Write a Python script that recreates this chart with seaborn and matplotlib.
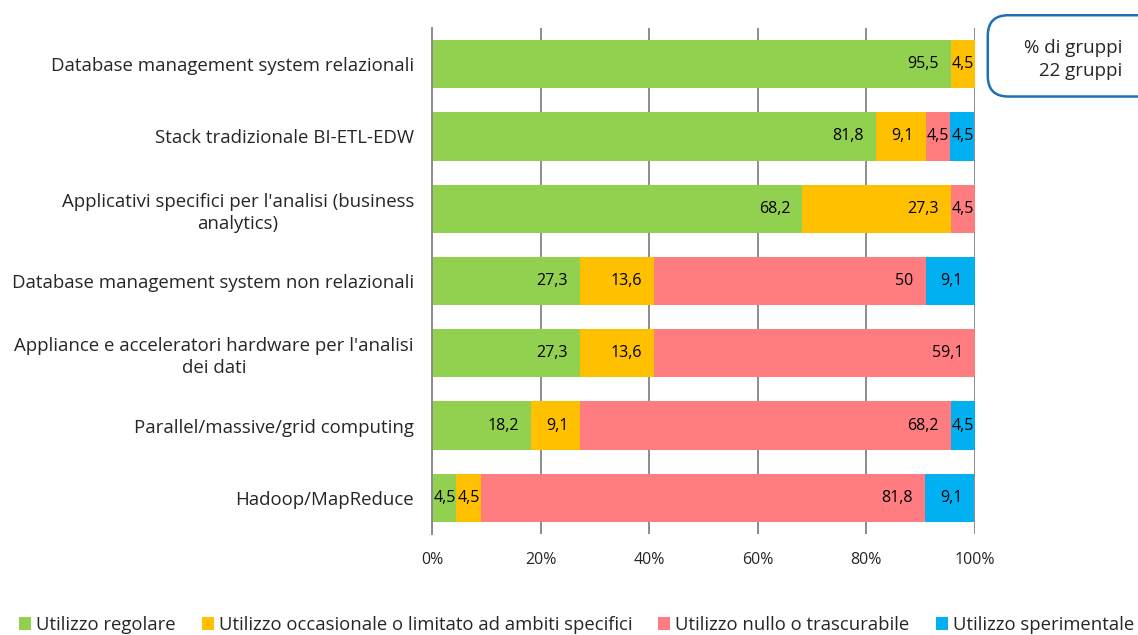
import numpy as np
import pandas as pd
import matplotlib
matplotlib.use("Agg")
import matplotlib.pyplot as plt
from matplotlib.patches import Patch, FancyBboxPatch
import seaborn as sns


# Data (percent of groups, 22 groups)
categories = [
    "Database management system relazionali",
    "Stack tradizionale BI-ETL-EDW",
    "Applicativi specifici per l'analisi (business\nanalytics)",
    "Database management system non relazionali",
    "Appliance e acceleratori hardware per l'analisi\ndei dati",
    "Parallel/massive/grid computing",
    "Hadoop/MapReduce",
]
regolare = [95.5, 81.8, 68.2, 27.3, 27.3, 18.2, 4.5]
occasionale = [4.5, 9.1, 27.3, 13.6, 13.6, 9.1, 4.5]
nullo = [0, 4.5, 4.5, 50, 59.1, 68.2, 81.8]
sperimentale = [0, 4.5, 0, 9.1, 0, 4.5, 9.1]

series_names = [
    "Utilizzo regolare",
    "Utilizzo occasionale o limitato ad ambiti specifici",
    "Utilizzo nullo o trascurabile",
    "Utilizzo sperimentale",
]
colors = ["#92D050", "#FFC000", "#FF7C80", "#00B0F0"]

df = pd.DataFrame({
    "categoria": categories,
    series_names[0]: regolare,
    series_names[1]: occasionale,
    series_names[2]: nullo,
    series_names[3]: sperimentale,
})

sns.set_style("white")
plt.rcParams["font.family"] = ["Open Sans", "DejaVu Sans"]

fig = plt.figure(figsize=(11.38, 6.35), dpi=100)
ax = fig.add_axes([0.3796, 0.1591, 0.4772, 0.7968])

# gridlines behind the bars
ax.set_axisbelow(True)
ax.xaxis.grid(True, color="#8C8C8C", linewidth=1.4)

# stacked bars: draw cumulative totals from the end backwards
cum = df[series_names].cumsum(axis=1)
for name, col in reversed(list(zip(series_names, colors))):
    sns.barplot(
        x=cum[name], y=df["categoria"], orient="h",
        color=col, width=0.667, ax=ax, saturation=1,
        edgecolor="none", linewidth=0,
    )

# value labels, inside end of each segment
px_per_unit = 543 / 100
for i in range(len(categories)):
    left = 0
    for name in series_names:
        w = df[name].iloc[i]
        if w > 0:
            lab = f"{w:g}".replace(".", ",")
            tw = len(lab) * 7.6 / px_per_unit
            pad = min(12 / px_per_unit, max((w - tw) / 2, 0))
            ax.text(left + w - pad, i, lab, ha="right", va="center",
                    fontsize=11.5, color="black")
        left += w

ax.set_xlim(0, 100)
ax.set_ylim(6.5, -0.5)
ax.set_xticks([0, 20, 40, 60, 80, 100])
ax.set_xticklabels(["0%", "20%", "40%", "60%", "80%", "100%"])
ax.set_xlabel("")
ax.set_ylabel("")
for s in ["top", "right", "bottom"]:
    ax.spines[s].set_visible(False)
ax.spines["left"].set_color("#8C8C8C")
ax.spines["left"].set_linewidth(1.4)
ax.tick_params(axis="x", length=0, labelsize=11.5, pad=13)
ax.tick_params(axis="y", length=0, labelsize=13.4, pad=13)
for t in ax.get_yticklabels():
    t.set_multialignment("center")
    t.set_linespacing(1.3)

# legend
handles = [Patch(facecolor=c, edgecolor="none") for c in colors]
fig.legend(handles, series_names, loc="center left", bbox_to_anchor=(0.0167, 0.016),
           ncol=4, frameon=False, fontsize=13.3, handlelength=0.66, handleheight=0.66,
           handletextpad=0.27, columnspacing=1.4, borderpad=0, borderaxespad=0)

# info box top right
box = FancyBboxPatch((0.868, 0.848), 0.16, 0.128, transform=fig.transFigure,
                     boxstyle="round,pad=0,rounding_size=0.018",
                     facecolor="white", edgecolor="#1F6FB5", linewidth=1.8,
                     mutation_aspect=1.79)
fig.patches.append(box)
fig.text(0.986, 0.906, "% di gruppi\n22 gruppi", ha="right", va="center",
         fontsize=13.5, linespacing=1.4, multialignment="right")

fig.savefig("out.png", dpi=100)
